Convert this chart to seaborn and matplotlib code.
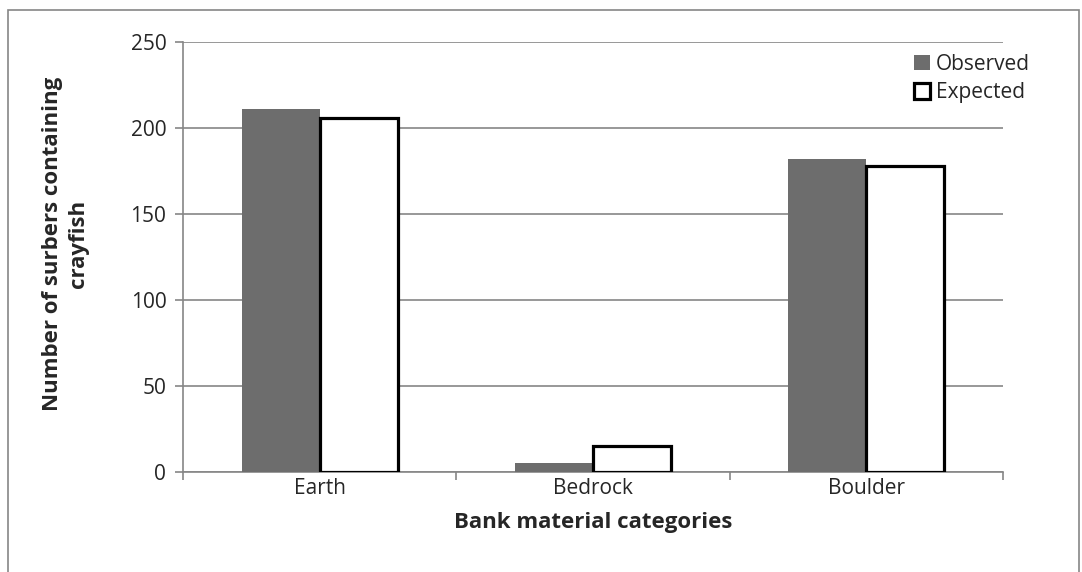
import pandas as pd
import seaborn as sns
import matplotlib.pyplot as plt
from matplotlib.patches import Rectangle, Patch

# --- Data ---
categories = ["Earth", "Bedrock", "Boulder"]
observed = [211, 5, 182]
expected = [206, 15, 178]
series = ["Observed", "Expected"]

df = pd.DataFrame({
    "category": categories * 2,
    "series": ["Observed"] * 3 + ["Expected"] * 3,
    "count": observed + expected,
})

grey = "#6d6d6d"
axis_grey = "#868686"

sns.set_style("white")
plt.rcParams["font.family"] = ["Open Sans", "DejaVu Sans"]

fig = plt.figure(figsize=(10.82, 5.72), dpi=100)
ax = fig.add_axes([183 / 1082, 1 - 472 / 572, (1003 - 183) / 1082, (472 - 42) / 572])

sns.barplot(data=df, x="category", y="count", hue="series", order=categories,
            hue_order=series, palette=[grey, "white"], width=0.57, ax=ax,
            legend=False, zorder=3)

# --- Bar edges ---
for bar in ax.containers[0]:
    bar.set_edgecolor(grey)
    bar.set_linewidth(0)
for bar in ax.containers[1]:
    bar.set_edgecolor("black")
    bar.set_linewidth(2.3)

# --- Axes styling ---
ax.set_xlim(-0.5, 2.5)
ax.set_ylim(0, 250)
ax.set_yticks(range(0, 251, 50))
ax.yaxis.grid(True, color=axis_grey, linewidth=1.2, zorder=0)
ax.set_axisbelow(True)
for side in ["top", "right"]:
    ax.spines[side].set_visible(False)
for side in ["left", "bottom"]:
    ax.spines[side].set_color(axis_grey)
    ax.spines[side].set_linewidth(1.2)

ax.tick_params(axis="y", direction="out", length=6, width=1.2, color=axis_grey,
               labelsize=15, pad=6, left=True)
ax.tick_params(axis="x", which="major", length=0, labelsize=15, pad=4)
ax.set_xticks([-0.5, 0.5, 1.5, 2.5], minor=True)
ax.tick_params(axis="x", which="minor", direction="out", length=6, width=1.2,
               color=axis_grey, bottom=True)

ax.set_xlabel("Bank material categories", fontsize=16, fontweight="bold", labelpad=10)
ax.set_ylabel("Number of surbers containing\ncrayfish", fontsize=16,
              fontweight="bold", labelpad=30, linespacing=1.3)
ax.yaxis.label.set_y(0.53)

# --- Legend ---
handles = [Patch(facecolor=grey, edgecolor=grey, linewidth=0),
           Patch(facecolor="white", edgecolor="black", linewidth=2.3)]
ax.legend(handles, series, loc="upper right", bbox_to_anchor=(1.056, 1.016),
          frameon=False, fontsize=15, handlelength=0.75, handleheight=0.75,
          handletextpad=0.3, labelspacing=0.35)

# --- Chart border ---
fig.patches.append(Rectangle((8 / 1082, -0.05), (1079 - 8) / 1082, 1.05 - 10 / 572,
                             transform=fig.transFigure, fill=False,
                             edgecolor=axis_grey, linewidth=1.2))

fig.savefig("out.png", dpi=100)
